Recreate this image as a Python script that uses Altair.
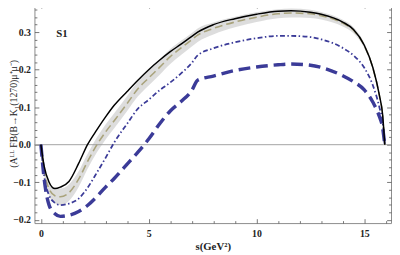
import altair as alt
import pandas as pd

# ---- data ----
s = [0.0, 0.15, 0.38, 0.65, 0.9, 1.3, 1.75, 2.16, 2.6, 3.0, 3.4, 4.0, 4.5, 5.0,
     5.5, 6.0, 6.5, 7.0, 7.27, 8.0, 9.0, 10.0, 11.0, 11.6, 12.5, 13.0, 14.0,
     14.5, 15.0, 15.4, 15.7, 15.85, 15.95]
black = [0.0, -0.057, -0.100, -0.117, -0.113, -0.098, -0.050, 0.0, 0.040, 0.074,
         0.105, 0.142, 0.172, 0.200, 0.225, 0.248, 0.268, 0.289, 0.300, 0.320,
         0.336, 0.348, 0.356, 0.357, 0.353, 0.348, 0.327, 0.307, 0.265, 0.205,
         0.132, 0.080, 0.0]
sm = [0.0, -0.070, -0.118, -0.136, -0.139, -0.128, -0.092, -0.045, 0.0, 0.034,
      0.064, 0.110, 0.149, 0.178, 0.206, 0.235, 0.258, 0.280, 0.292, 0.310,
      0.327, 0.340, 0.349, 0.351, 0.349, 0.344, 0.324, 0.305, 0.264, 0.204,
      0.131, 0.079, 0.0]
band = [0.0, 0.010, 0.018, 0.021, 0.022, 0.022, 0.021, 0.020, 0.020, 0.020,
        0.020, 0.020, 0.020, 0.020, 0.020, 0.020, 0.019, 0.018, 0.018, 0.016,
        0.014, 0.013, 0.012, 0.012, 0.011, 0.010, 0.009, 0.008, 0.007, 0.006,
        0.004, 0.003, 0.0]
dotdash = [0.0, -0.083, -0.135, -0.155, -0.161, -0.157, -0.144, -0.115, -0.074,
           -0.035, 0.006, 0.056, 0.096, 0.120, 0.145, 0.166, 0.190, 0.218, 0.238,
           0.257, 0.273, 0.284, 0.290, 0.290, 0.287, 0.281, 0.258, 0.238, 0.205,
           0.158, 0.100, 0.060, 0.0]
dashed = [0.0, -0.091, -0.161, -0.184, -0.191, -0.188, -0.178, -0.162, -0.138,
          -0.113, -0.090, -0.052, -0.020, 0.015, 0.055, 0.090, 0.115, 0.145,
          0.172, 0.183, 0.198, 0.207, 0.213, 0.215, 0.212, 0.206, 0.184, 0.168,
          0.146, 0.113, 0.075, 0.045, 0.0]

x_labels = [0, 5, 10, 15]
y_labels = [-0.2, -0.1, 0.0, 0.1, 0.2, 0.3]
x_minor = list(range(0, 17))
y_minor = [round(-0.2 + 0.02 * i, 2) for i in range(29)]
zero_line = [0.0]
panel_label = ["S1"]
panel_label_s = [0.97]
panel_label_y = [0.295]

df = pd.DataFrame({
    "s": s, "black": black, "sm": sm,
    "lo": [a - b for a, b in zip(sm, band)],
    "hi": [a + b for a, b in zip(sm, band)],
    "dd": dotdash, "dash": dashed,
})

W, H = 364, 224
serif = "Liberation Serif"
xs = alt.Scale(domain=[-0.3, 16.24], nice=False, zero=False)
ys = alt.Scale(domain=[-0.209, 0.376], nice=False, zero=False)
BLUE = "#3b3b98"

base = alt.Chart(df)

band_layer = base.mark_area(color="#d4d4d4", opacity=0.8, interpolate="monotone").encode(
    x=alt.X("s:Q", scale=xs, axis=alt.Axis(
        values=x_labels, ticks=False, domain=False, grid=False, labelFont=serif,
        labelFontWeight="bold", labelFontSize=10, labelColor="#222", labelPadding=6,
        title="s(GeV²)", titleFont=serif, titleFontWeight="bold", titleFontSize=11,
        titleColor="#222", titleY=27, titleBaseline="alphabetic")),
    y=alt.Y("lo:Q", scale=ys, axis=alt.Axis(
        values=y_labels, format=".1f", ticks=False, domain=False, grid=False,
        labelFont=serif, labelFontWeight="bold", labelFontSize=10, labelColor="#222",
        labelPadding=4, title="(Aᴸᴸ FB(B→K₁(1270)μ⁺μ⁻)", titleFont=serif,
        titleFontWeight="normal", titleFontSize=10, titleColor="#222",
        titleX=-21, titleBaseline="middle")),
    y2="hi:Q",
)


def line(col, color, width, dash=None):
    kw = dict(color=color, strokeWidth=width, interpolate="monotone")
    if dash:
        kw["strokeDash"] = dash
    return base.mark_line(**kw).encode(
        x=alt.X("s:Q", scale=xs, axis=None),
        y=alt.Y(f"{col}:Q", scale=ys, axis=None),
    )


zero = alt.Chart(pd.DataFrame({"z": zero_line})).mark_rule(
    color="#999999", strokeWidth=0.9).encode(y=alt.Y("z:Q", scale=ys, axis=None))

label = alt.Chart(pd.DataFrame({"s": panel_label_s, "y": panel_label_y, "t": panel_label})).mark_text(
    font=serif, fontWeight="bold", fontSize=11, color="#222").encode(
    x=alt.X("s:Q", scale=xs, axis=None), y=alt.Y("y:Q", scale=ys, axis=None), text="t:N")

xt = {"condition": {"test": "datum.value % 5 === 0", "value": 4.5}, "value": 2.5}
yt = {"condition": {"test": "abs(datum.value*10 - round(datum.value*10)) < 0.001", "value": 4.5},
      "value": 2.5}


def xtick(orient, off):
    return base.mark_point(opacity=0).encode(
        x=alt.X("s:Q", scale=xs, axis=alt.Axis(
            orient=orient, offset=off, values=x_minor, labels=False, domain=False,
            grid=False, title=None, tickSize=xt, tickColor="#555", tickWidth=0.8)),
        y=alt.Y("black:Q", scale=ys, axis=None))


def ytick(orient, off):
    return base.mark_point(opacity=0).encode(
        x=alt.X("s:Q", scale=xs, axis=None),
        y=alt.Y("black:Q", scale=ys, axis=alt.Axis(
            orient=orient, offset=off, values=y_minor, labels=False, domain=False,
            grid=False, title=None, tickSize=yt, tickColor="#555", tickWidth=0.8)))


chart = alt.layer(
    band_layer,
    zero,
    line("sm", "#a9a37c", 1.6, [8, 4]),
    line("dd", BLUE, 1.8, [5, 2.5, 1.5, 2.5]),
    line("dash", BLUE, 3.5, [12, 6]),
    line("black", "#000000", 1.5),
    label,
    xtick("top", -H), xtick("bottom", -H),
    ytick("right", -W), ytick("left", -W),
).resolve_axis(x="independent", y="independent").properties(
    width=W, height=H,
    autosize=alt.AutoSizeParams(type="none"),
    padding={"left": 27, "top": -7, "right": 1, "bottom": 30},
).configure_view(stroke="#8a8a8a", strokeWidth=1)

chart.save("out.html", embed_options={"renderer": "svg", "actions": False})
